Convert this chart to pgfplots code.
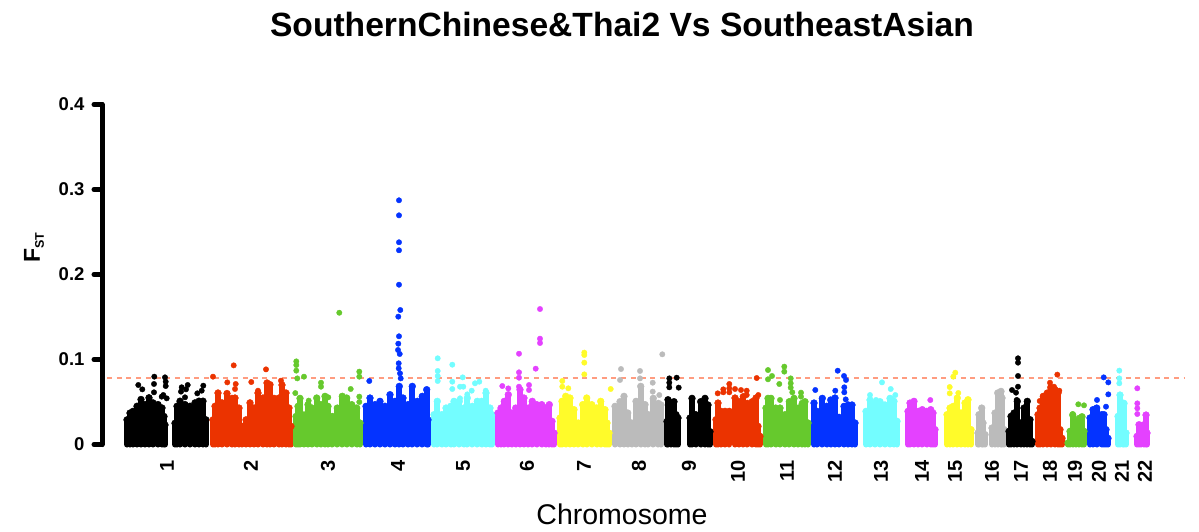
\documentclass[border=0pt]{standalone}
\usepackage{pgfplots}
\pgfplotsset{compat=1.18}
\usepackage{fontspec}
\setmainfont{Liberation Sans}
\definecolor{cK}{HTML}{000000}
\definecolor{cR}{HTML}{EB3300}
\definecolor{cG}{HTML}{66C92D}
\definecolor{cB}{HTML}{0433FF}
\definecolor{cC}{HTML}{73FDFF}
\definecolor{cM}{HTML}{E441FF}
\definecolor{cY}{HTML}{FFFB2A}
\definecolor{cA}{HTML}{BBBBBB}
\definecolor{cD}{HTML}{FF9C80}
\pgfplotsset{
  comb/.style={ycomb, line width=6pt, line cap=round, color=#1, mark=*, mark size=3.4pt, mark options={line width=0.4pt, draw=#1, fill=#1}},
  pts/.style={only marks, mark=*, mark size=2.7pt, color=#1, mark options={line width=0.4pt, draw=#1, fill=#1}},
}
\begin{document}
\begin{tikzpicture}[x=1pt,y=1pt]
\useasboundingbox (0,0) rectangle (1199,531);
\begin{axis}[
  at={(102pt,86.5pt)}, anchor=origin,
  scale only axis, width=1083pt, height=340pt,
  xmin=102, xmax=1185, ymin=0, ymax=0.4,
  axis y line*=left, axis x line*=bottom,
  clip=false,
  x axis line style={draw=none},
  y axis line style={line width=5pt, line cap=round, color=black},
  y tick style={line width=5pt, line cap=round, color=black},
  x tick style={draw=none},
  tick align=outside,
  major tick length=8pt,
  ytick={0,0.1,0.2,0.3,0.4},
  yticklabels={0,0.1,0.2,0.3,0.4},
  yticklabel style={font=\fontsize{18.5}{20}\selectfont\bfseries, xshift=-6pt},
  xtick={167,251,328,398,463,527,584,639,689,738,787,835,881,922,955,992,1021,1050,1075,1099,1122,1145},
  xticklabels={1,2,3,4,5,6,7,8,9,10,11,12,13,14,15,16,17,18,19,20,21,22},
  xticklabel style={rotate=90, anchor=east, font=\fontsize{20}{20}\selectfont\bfseries},
  xticklabel shift=4pt,
  title={SouthernChinese\&Thai2 Vs SoutheastAsian},
  title style={at={(axis cs:622,0.4)}, anchor=base, yshift=62.5pt, font=\fontsize{33.6}{36}\selectfont\bfseries},
  xlabel={Chromosome},
  xlabel style={at={(axis cs:622,0)}, anchor=base, yshift=-80pt, font=\fontsize{28.5}{30}\selectfont},
]
\node[rotate=90, anchor=base, font=\fontsize{23}{24}\selectfont\bfseries, inner sep=0pt] at (axis cs:40,0.2312) {F\raisebox{-4pt}{\fontsize{12.5}{12.5}\selectfont ST}};
% ---------- chr 1
\addplot[comb=cK] coordinates {(127,.029)(130,.037)(133,.039)(137,.045)(141,.053)(145,.047)(149,.055)(153,.049)(158,.047)(162,.043)(164,.033)(165,.023)};
\addplot[comb=cK] coordinates {(175,.025)(177,.045)(180,.051)(185,.047)(190,.045)(195,.049)(199,.051)(203,.051)(206,.029)};
\addplot[pts=cK] coordinates {(154.3,.0798)(154,.0712)(154,.0614)(165,.079)(165.7,.0739)(165.7,.0688)(138.3,.07)(142.3,.0649)(163.3,.0582)(166.7,.0543)(161.7,.0563)(187.7,.07)(181.7,.0673)(186,.0649)(181,.0622)(197.3,.0602)(203.3,.0692)(201.7,.0633)(185,.0555)};
% ---------- chr 2
\addplot[comb=cR] coordinates {(213,.029)(215,.045)(218,.0606)(222,.049)(227,.06)(232,.0543)(235,.0547)(239,.0429)(242,.0214)(246,.029)(250,.049)(254,.043)(258,.0606)(263,.0547)(267,.0724)(270,.0704)(274,.0543)(279,.0547)(282,.07)(286,.0606)(289,.043)(291,.0214)};
\addplot[pts=cR] coordinates {(233.7,.0931)(213,.0798)(266,.0884)(227.3,.0731)(235.7,.0712)(235,.0653)(251.3,.0735)(281,.0751)(258,.0633)};
% ---------- chr 3
\addplot[comb=cG] coordinates {(296,.033)(298,.0449)(300,.0543)(304,.0347)(308,.0469)(312,.0429)(316.7,.0547)(320.7,.0469)(325,.0567)(328,.0449)(332.3,.033)(337.3,.0429)(342.3,.0567)(346.7,.0547)(351.7,.0469)(356.7,.0429)(360,.0253)};
\addplot[pts=cG] coordinates {(296.3,.0978)(296.3,.0935)(296.3,.0869)(297.3,.0778)(304,.0798)(295.3,.0605)(321,.0727)(321,.068)(359.3,.0857)(359.3,.0798)(350.7,.0653)(359.3,.0563)(359.3,.05)(328.3,.0555)(308.7,.0516)(300,.0531)(339.3,.155)};
% ---------- chr 4
\addplot[comb=cB] coordinates {(366,.0449)(370,.0547)(375,.0469)(380,.0508)(385,.045)(390,.0586)(395,.0508)(399.3,.0684)(403,.0547)(408,.0469)(412.3,.0684)(417.3,.0508)(422.3,.0567)(426.7,.0645)(428,.029)};
\addplot[pts=cB] coordinates {(369.3,.0747)(398.7,.0955)(398.7,.0896)(400,.0837)(400.7,.0778)(399,.2873)(399,.2696)(399,.2379)(399,.2285)(399,.188)(400.3,.1582)(398.3,.1504)(399,.1273)(398.3,.1186)(398,.1112)(399.7,.1065)};
% ---------- chr 5
\addplot[comb=cC] coordinates {(434,.0351)(437.3,.0508)(441.7,.0351)(446,.0429)(450.7,.0449)(454,.0508)(459.3,.0508)(464,.0429)(467.3,.0547)(472.3,.0449)(477.3,.0508)(481.7,.0508)(486,.0606)(490,.0429)(492,.0351)};
\addplot[pts=cC] coordinates {(437.7,.1014)(452.3,.0939)(437.7,.0865)(437.7,.0806)(437.7,.0747)(462.7,.079)(452.3,.0739)(452.3,.0653)(460,.068)(463.3,.068)(475,.072)(479.3,.0739)(471.7,.0633)(467.3,.059)(460,.0543)(485.7,.0633)};
% ---------- chr 6
\addplot[comb=cM] coordinates {(498,.0371)(501,.0429)(504.3,.0508)(508.3,.0586)(511.7,.0371)(515.7,.0429)(520,.0645)(524,.0547)(528.3,.0429)(532.3,.0508)(536.7,.0469)(541.7,.0469)(545.7,.0429)(549.3,.0469)(552,.0273)(554,.0135)};
\addplot[pts=cM] coordinates {(540,.1594)(540,.1245)(540,.1194)(519,.1068)(519,.0849)(519,.0786)(535.7,.0892)(502.3,.0688)(508.3,.066)(529,.07)(529,.0641)(519,.068)};
% ---------- chr 7
\addplot[comb=cY] coordinates {(560,.0312)(562,.0508)(565.7,.0567)(570,.0547)(574,.041)(578.3,.0253)(582.7,.0469)(586.7,.0547)(591.7,.0469)(596.7,.043)(600.7,.0508)(605,.041)(607,.0253)(609,.0135)};
\addplot[pts=cY] coordinates {(584.3,.1081)(584.3,.1053)(584.3,.0963)(584.3,.0825)(562.3,.0747)(562.3,.068)(568.3,.0661)(610.7,.0653)};
% ---------- chr 8
\addplot[comb=cA] coordinates {(615,.0449)(620,.0504)(624,.0567)(627.7,.0371)(631.7,.0253)(636,.0508)(640.7,.0684)(645,.0469)(648.3,.0351)(653.3,.0543)(658.3,.0484)(661,.0465)};
\addplot[pts=cA] coordinates {(621,.0888)(620,.0759)(640,.0865)(640,.0778)(652.7,.0727)(652.7,.0622)(652.7,.0524)(662.3,.1061)(659.3,.0582)};
% ---------- chr 9
\addplot[comb=cK] coordinates {(667,.0271)(668,.0527)(671,.0484)(674,.0504)(676,.0351)(678,.0312)};
\addplot[comb=cK] coordinates {(690,.0312)(692,.0543)(695.7,.0351)(700.7,.0504)(705,.0543)(708,.0465)(710,.0151)};
\addplot[pts=cK] coordinates {(669.3,.0778)(669.3,.0727)(669.3,.0673)(676.7,.0786)(678.7,.0669)};
% ---------- chr 10
\addplot[comb=cR] coordinates {(716,.0292)(718,.0488)(721,.039)(725,.039)(729.3,.039)(735,.0547)(739,.0504)(743.3,.0563)(747.3,.0484)(752.3,.0504)(756,.0547)(758,.0214)(760,.0096)};
\addplot[pts=cR] coordinates {(756.7,.0782)(729.3,.0712)(729.3,.0661)(729.3,.0614)(723.3,.0649)(723.3,.0614)(717.7,.0602)(735,.0653)(741,.0641)(746.7,.0633)(746.7,.0582)(758.3,.0582)};
% ---------- chr 11
\addplot[comb=cG] coordinates {(766,.0429)(768,.0543)(771,.0543)(775.7,.0429)(780,.0429)(785,.0351)(789.3,.0504)(794,.0543)(798.3,.0429)(802.3,.0484)(805,.0504)(808,.0253)};
\addplot[pts=cG] coordinates {(768,.0876)(768,.0767)(772,.0806)(784.3,.0916)(784.3,.0857)(779.3,.0712)(790.7,.0778)(790.7,.072)(790.7,.0669)(792.3,.0614)(801,.061)(801,.0563)(780,.0524)};
% ---------- chr 12
\addplot[comb=cB] coordinates {(814,.0488)(817,.039)(822.3,.0543)(826.7,.045)(830.7,.0524)(835,.0547)(839,.032)(844,.0449)(848.3,.0465)(852,.0465)(855,.0253)};
\addplot[pts=cB] coordinates {(837.7,.0868)(844,.0806)(846,.0759)(815.3,.0641)(835.3,.0633)(844.3,.0673)(844.3,.0614)(845.7,.0531)};
% ---------- chr 13
\addplot[comb=cC] coordinates {(866,.039)(870,.0524)(875,.0484)(880,.0504)(885,.0465)(890,.0543)(894,.0508)(897,.0273)};
\addplot[pts=cC] coordinates {(882,.0731)(890.7,.0653)(870,.0582)(895.3,.0582)(892.3,.0531)(876,.0524)};
% ---------- chr 14
\addplot[comb=cM] coordinates {(908,.039)(910,.0488)(914,.0508)(918.3,.039)(922.3,.041)(926.7,.039)(930.7,.041)(933,.037)(935,.0175)};
\addplot[pts=cM] coordinates {(930.3,.0523)};
% ---------- chr 15
\addplot[comb=cY] coordinates {(947,.0351)(950,.0429)(953.3,.0449)(957.3,.0547)(961,.0371)(965,.0488)(968,.0527)(971,.0175)};
\addplot[pts=cY] coordinates {(955.3,.0845)(953.3,.0798)(949.7,.0676)(949.7,.0602)(958.3,.0606)};
% ---------- chr 16
\addplot[comb=cA] coordinates {(978,.0135)(979,.0351)(981.7,.0429)(983,.0253)(985,.0116)};
\addplot[comb=cA] coordinates {(992,.0194)(995,.037)(997.7,.0606)(1001,.0625)(1002,.0547)(1004,.0175)};
% ---------- chr 17
\addplot[comb=cK] coordinates {(1009,.0155)(1011,.0331)(1014,.037)(1017.3,.0508)(1020.7,.0253)(1024,.0429)(1027.3,.0508)(1030,.0292)(1032,.0037)};
\addplot[pts=cK] coordinates {(1018,.1014)(1018,.0963)(1018,.0806)(1018,.068)(1012,.0641)(1016,.061)(1016.7,.0524)};
% ---------- chr 18
\addplot[comb=cR] coordinates {(1038,.0351)(1040,.0429)(1043.3,.0567)(1047.3,.0606)(1050.7,.0671)(1055,.0645)(1058,.0606)(1060,.0175)(1062,.0073)};
\addplot[pts=cR] coordinates {(1057.3,.0822)(1039.7,.0512)(1050,.0727)(1054,.068)(1059.3,.0633)};
% ---------- chr 19
\addplot[comb=cG] coordinates {(1068,.0018)(1070,.0155)(1072.7,.0347)(1076,.0269)(1079.3,.0308)(1082,.0327)(1084,.0155)};
\addplot[pts=cG] coordinates {(1078.3,.0473)(1084,.0461)(1072.7,.0359)};
% ---------- chr 20
\addplot[comb=cB] coordinates {(1090,.0312)(1093,.041)(1096.7,.0429)(1101.7,.0351)(1104,.0351)(1106,.0175)(1108,.0073)};
\addplot[pts=cB] coordinates {(1103.7,.079)(1108.3,.0731)(1108.3,.059)(1097,.0524)(1106,.0445)};
% ---------- chr 21
\addplot[comb=cC] coordinates {(1118,.0331)(1120,.0582)(1122.7,.0488)(1124,.0484)(1126,.0135)};
\addplot[pts=cC] coordinates {(1119.3,.0869)(1119.3,.0778)(1119.3,.072)};
% ---------- chr 22
\addplot[comb=cM] coordinates {(1137,.0096)(1139,.0233)(1140.7,.0194)(1144,.0233)(1146,.0347)(1147,.0135)};
\addplot[pts=cM] coordinates {(1137.3,.0661)(1137.3,.0484)(1137.3,.0426)(1137.3,.0359)(1146.3,.0343)};
% threshold
\addplot[color=cD, line width=1.6pt, dash pattern=on 5pt off 4.7pt] coordinates {(107,.0782)(1185,.0782)};
\end{axis}
\end{tikzpicture}
\end{document}
